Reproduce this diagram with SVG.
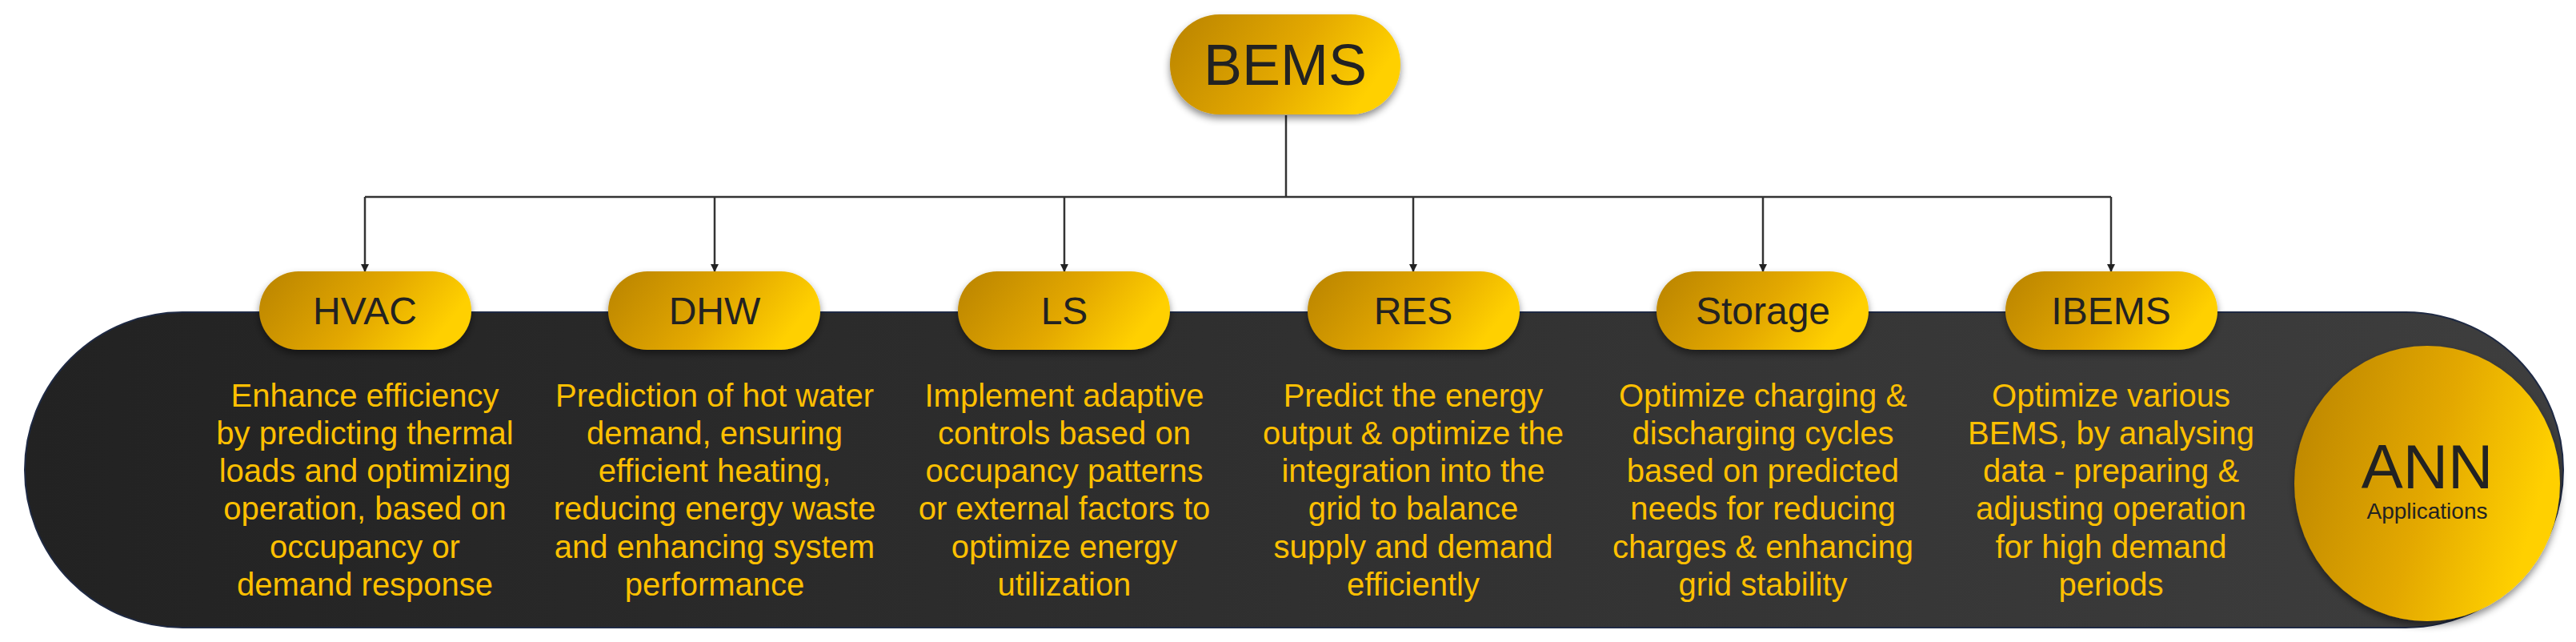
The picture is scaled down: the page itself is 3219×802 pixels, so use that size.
<svg xmlns="http://www.w3.org/2000/svg" width="3219" height="802" viewBox="0 0 3219 802">
<defs>
<linearGradient id="gold" x1="0" y1="0" x2="1" y2="0.3">
<stop offset="0" stop-color="#B98300"/><stop offset="0.6" stop-color="#E3A800"/><stop offset="1" stop-color="#FFD000"/>
</linearGradient>
<linearGradient id="band" x1="0" y1="0" x2="1" y2="0">
<stop offset="0" stop-color="#222"/><stop offset="1" stop-color="#3E3E3E"/>
</linearGradient>
<filter id="sh" x="-20%" y="-20%" width="140%" height="150%"><feDropShadow dx="0" dy="5" stdDeviation="5" flood-color="#000" flood-opacity="0.45"/></filter>
<marker id="ar" markerWidth="10" markerHeight="10" refX="9" refY="5" orient="auto" markerUnits="userSpaceOnUse"><path d="M0,0 L10,5 L0,10 z" fill="#222"/></marker>
<style>
.pill{fill:url(#gold);filter:url(#sh)}
.lbl{font-family:"Liberation Sans",Arial,sans-serif;fill:#222;text-anchor:middle}
.desc{font-family:"Liberation Sans Narrow","Liberation Sans",Arial,sans-serif;font-size:40px;fill:#FFC000;text-anchor:middle}
.con{stroke:#333;stroke-width:2.5;fill:none}
</style>
</defs>
<rect x="31" y="390" width="3172" height="394" rx="197" ry="197" fill="url(#band)" stroke="#1f2a44" stroke-width="2"/>
<g id="connectors">
<path class="con" d="M1607,144 V246"/>
<path class="con" d="M456,246 H2638"/>
<path class="con" d="M456,246 V339" marker-end="url(#ar)"/>
<path class="con" d="M893,246 V339" marker-end="url(#ar)"/>
<path class="con" d="M1330,246 V339" marker-end="url(#ar)"/>
<path class="con" d="M1766,246 V339" marker-end="url(#ar)"/>
<path class="con" d="M2203,246 V339" marker-end="url(#ar)"/>
<path class="con" d="M2638,246 V339" marker-end="url(#ar)"/>
</g>
<g id="bems"><rect class="pill" x="1462" y="18" width="288" height="125" rx="62"/><text class="lbl" x="1606" y="106" font-size="72">BEMS</text></g>
<g id="hvac"><rect class="pill" x="324" y="339" width="265" height="98" rx="49"/><text class="lbl" x="456" y="405" font-size="48">HVAC</text>
<text class="desc"><tspan x="456" y="508">Enhance efficiency</tspan><tspan x="456" y="555">by predicting thermal</tspan><tspan x="456" y="602">loads and optimizing</tspan><tspan x="456" y="649">operation, based on</tspan><tspan x="456" y="697">occupancy or</tspan><tspan x="456" y="744">demand response</tspan></text></g>
<g id="dhw"><rect class="pill" x="760" y="339" width="265" height="98" rx="49"/><text class="lbl" x="893" y="405" font-size="48">DHW</text>
<text class="desc"><tspan x="893" y="508">Prediction of hot water</tspan><tspan x="893" y="555">demand, ensuring</tspan><tspan x="893" y="602">efficient heating,</tspan><tspan x="893" y="649">reducing energy waste</tspan><tspan x="893" y="697">and enhancing system</tspan><tspan x="893" y="744">performance</tspan></text></g>
<g id="ls"><rect class="pill" x="1197" y="339" width="265" height="98" rx="49"/><text class="lbl" x="1330" y="405" font-size="48">LS</text>
<text class="desc"><tspan x="1330" y="508">Implement adaptive</tspan><tspan x="1330" y="555">controls based on</tspan><tspan x="1330" y="602">occupancy patterns</tspan><tspan x="1330" y="649">or external factors to</tspan><tspan x="1330" y="697">optimize energy</tspan><tspan x="1330" y="744">utilization</tspan></text></g>
<g id="res"><rect class="pill" x="1634" y="339" width="265" height="98" rx="49"/><text class="lbl" x="1766" y="405" font-size="48">RES</text>
<text class="desc"><tspan x="1766" y="508">Predict the energy</tspan><tspan x="1766" y="555">output &amp; optimize the</tspan><tspan x="1766" y="602">integration into the</tspan><tspan x="1766" y="649">grid to balance</tspan><tspan x="1766" y="697">supply and demand</tspan><tspan x="1766" y="744">efficiently</tspan></text></g>
<g id="storage"><rect class="pill" x="2070" y="339" width="265" height="98" rx="49"/><text class="lbl" x="2203" y="405" font-size="48">Storage</text>
<text class="desc"><tspan x="2203" y="508">Optimize charging &amp;</tspan><tspan x="2203" y="555">discharging cycles</tspan><tspan x="2203" y="602">based on predicted</tspan><tspan x="2203" y="649">needs for reducing</tspan><tspan x="2203" y="697">charges &amp; enhancing</tspan><tspan x="2203" y="744">grid stability</tspan></text></g>
<g id="ibems"><rect class="pill" x="2506" y="339" width="265" height="98" rx="49"/><text class="lbl" x="2638" y="405" font-size="48">IBEMS</text>
<text class="desc"><tspan x="2638" y="508">Optimize various</tspan><tspan x="2638" y="555">BEMS, by analysing</tspan><tspan x="2638" y="602">data - preparing &amp;</tspan><tspan x="2638" y="649">adjusting operation</tspan><tspan x="2638" y="697">for high demand</tspan><tspan x="2638" y="744">periods</tspan></text></g>
<g id="ann"><ellipse cx="3033" cy="604" rx="166" ry="172" fill="url(#gold)" filter="url(#sh)"/><text class="lbl" x="3033" y="610" font-size="78">ANN</text><text class="lbl" x="3033" y="648" font-size="28">Applications</text></g>
</svg>
